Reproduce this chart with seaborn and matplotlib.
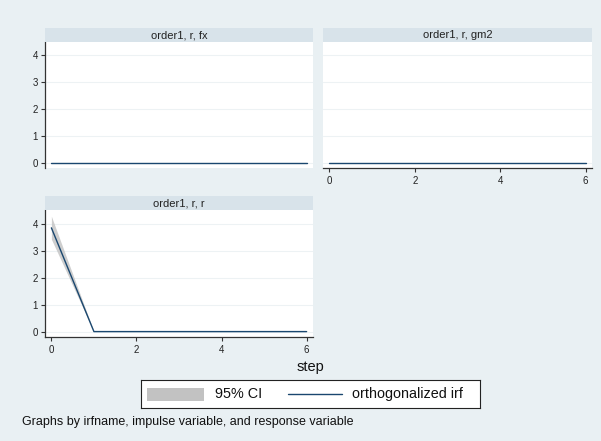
import matplotlib
matplotlib.use("Agg")
import matplotlib.pyplot as plt
import seaborn as sns
import pandas as pd
from matplotlib.patches import Rectangle
from matplotlib.lines import Line2D

# ---- data ----
steps = [0, 1, 2, 3, 4, 5, 6]
panels = ["order1, r, fx", "order1, r, gm2", "order1, r, r"]
irf_fx = [0, 0, 0, 0, 0, 0, 0]
irf_gm2 = [0, 0, 0, 0, 0, 0, 0]
irf_r = [3.84, 0, 0, 0, 0, 0, 0]
lo_fx = [0, 0, 0, 0, 0, 0, 0]
hi_fx = [0, 0, 0, 0, 0, 0, 0]
lo_gm2 = [0, 0, 0, 0, 0, 0, 0]
hi_gm2 = [0, 0, 0, 0, 0, 0, 0]
lo_r = [3.42, 0, 0, 0, 0, 0, 0]
hi_r = [4.27, 0, 0, 0, 0, 0, 0]
y_ticks = [0, 1, 2, 3, 4]
x_ticks = [0, 2, 4, 6]
legend_labels = ["95% CI", "orthogonalized irf"]
xlabel = "step"
note = "Graphs by irfname, impulse variable, and response variable"

sns.set_theme(style="white")
plt.rcParams["font.family"] = ["Liberation Sans", "DejaVu Sans"]

BG = "#e9f0f3"
STRIP = "#d8e3ea"
GRID = "#edf2f4"
LINE = "#1a476f"
CI = "#c2c2c2"

W, H = 601, 441
fig = plt.figure(figsize=(W / 100, H / 100), dpi=100, facecolor=BG)

def rect(x0, y0, x1, y1):
    return [x0 / W, 1 - y1 / H, (x1 - x0) / W, (y1 - y0) / H]

series = [(irf_fx, lo_fx, hi_fx), (irf_gm2, lo_gm2, hi_gm2), (irf_r, lo_r, hi_r)]
boxes = [(45, 42, 313, 168), (323, 42, 592, 168), (45, 210, 313, 337)]
show_y = [True, False, True]
show_x = [False, True, True]

for title, (irf, lo, hi), (x0, y0, x1, y1), sy, sx in zip(panels, series, boxes, show_y, show_x):
    ax = fig.add_axes(rect(x0, y0, x1, y1))
    ax.set_facecolor("white")
    df = pd.DataFrame({"step": steps, "irf": irf, "lo": lo, "hi": hi})
    for yt in y_ticks:
        ax.axhline(yt, color=GRID, lw=0.8, zorder=0)
    ax.fill_between(df["step"], df["lo"], df["hi"], color=CI, alpha=0.8, lw=0, zorder=1)
    sns.lineplot(data=df, x="step", y="irf", ax=ax, color=LINE, lw=1.0, zorder=2)
    ax.set_xlim(-0.15, 6.15)
    ax.set_ylim(-0.2, 4.5)
    ax.set_xlabel("")
    ax.set_ylabel("")
    for s in ["top", "right"]:
        ax.spines[s].set_visible(False)
    ax.spines["left"].set_visible(sy)
    ax.spines["bottom"].set_visible(sx)
    for s in ["left", "bottom"]:
        ax.spines[s].set_color("#333333")
        ax.spines[s].set_linewidth(0.9)
    ax.set_yticks(y_ticks)
    ax.set_xticks(x_ticks)
    ax.tick_params(axis="y", left=sy, labelleft=sy, length=3, width=0.8,
                   color="#333333", labelsize=7, pad=2, labelcolor="#222222")
    ax.tick_params(axis="x", bottom=sx, labelbottom=sx, length=3, width=0.8,
                   color="#333333", labelsize=7, pad=3, labelcolor="#222222")
    # strip title
    sax = fig.add_axes(rect(x0, y0 - 14, x1, y0))
    sax.set_facecolor(STRIP)
    for s in sax.spines.values():
        s.set_visible(False)
    sax.set_xticks([])
    sax.set_yticks([])
    sax.text(0.5, 0.5, title, ha="center", va="center", fontsize=8,
             color="#222222", transform=sax.transAxes)

fig.text(310 / W, 1 - 367 / H, xlabel, ha="center", va="center", fontsize=10.5, color="#111111")

# legend box
lax = fig.add_axes(rect(141, 380, 480, 408))
lax.set_xlim(141, 480)
lax.set_ylim(408, 380)
lax.set_facecolor("white")
for s in lax.spines.values():
    s.set_color("#222222")
    s.set_linewidth(0.8)
lax.set_xticks([])
lax.set_yticks([])
lax.add_patch(Rectangle((147, 388), 57, 13, color=CI, lw=0))
lax.text(215, 394, legend_labels[0], ha="left", va="center", fontsize=10.4, color="#111111")
lax.add_line(Line2D([288, 342], [394, 394], color=LINE, lw=1.0))
lax.text(352, 394, legend_labels[1], ha="left", va="center", fontsize=10.4, color="#111111")

fig.text(22 / W, 1 - 422 / H, note, ha="left", va="center", fontsize=9, color="#111111")

fig.savefig("out.png", dpi=100, facecolor=BG)
